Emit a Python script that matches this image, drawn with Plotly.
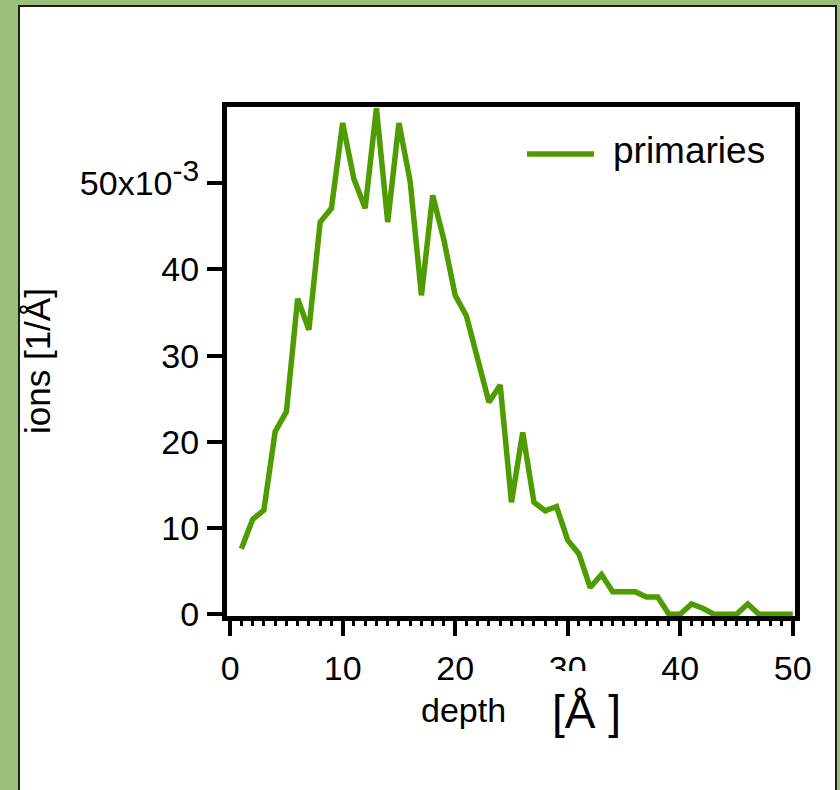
import plotly.graph_objects as go

# ---- data ----
depth = list(range(1, 51))
primaries = [0.0076, 0.0110, 0.0121, 0.0212, 0.0235, 0.0366, 0.0330, 0.0455, 0.0471, 0.0570,
             0.0505, 0.0471, 0.0587, 0.0455, 0.0570, 0.0502, 0.0370, 0.0486, 0.0434, 0.0370,
             0.0346, 0.0295, 0.0246, 0.0266, 0.0130, 0.0211, 0.0130, 0.0120, 0.0125, 0.0086,
             0.0070, 0.0031, 0.0046, 0.0026, 0.0026, 0.0026, 0.0020, 0.0020, 0.0000, 0.0000,
             0.0012, 0.0007, 0.0000, 0.0000, 0.0000, 0.0012, 0.0000, 0.0000, 0.0000, 0.0000]
series_name = "primaries"
y_tickvals = [0, 0.01, 0.02, 0.03, 0.04, 0.05]
y_ticktext = ["0", "10", "20", "30", "40",
              "50x10<sup><span style='font-size:30px'>-3</span></sup>"]
x_tickvals = [0, 10, 20, 30, 40, 50]
x_title = "depth"
x_unit = "[Å ]"
y_title = "ions [1/Å]"

# ---- layout geometry (pixels) ----
W, H = 840, 790
L, R, T, B = 227, 795, 107, 616
PW, PH = R - L, B - T

def px(x):
    return (x - L) / PW

def py(y):
    return (B - y) / PH

GREEN = "#4f9c00"
FONT = "Arial, Liberation Sans, sans-serif"

fig = go.Figure()
fig.add_trace(go.Scatter(x=depth, y=primaries, mode="lines", name=series_name,
                         line=dict(color=GREEN, width=5.5), showlegend=False))

fig.update_layout(
    width=W, height=H,
    margin=dict(l=L, r=W - R, t=T, b=H - B, pad=0),
    paper_bgcolor="#9bbe78",
    plot_bgcolor="white",
    font=dict(family=FONT, color="black", size=34),
    xaxis=dict(range=[-0.28, 50.2], tickvals=x_tickvals, ticks="outside", ticklen=15,
               tickwidth=4, tickcolor="black", showline=True, linewidth=5, linecolor="black",
               mirror=True, showgrid=False, zeroline=False, ticklabelstandoff=3,
               tickfont=dict(size=34),
               minor=dict(dtick=1, ticks="outside", ticklen=5, tickwidth=3, tickcolor="black",
                          showgrid=False)),
    yaxis=dict(range=[-0.0002, 0.05885], tickvals=y_tickvals, ticktext=y_ticktext,
               ticks="outside", ticklen=15, tickwidth=4, tickcolor="black", showline=True,
               linewidth=5, linecolor="black", mirror=True, showgrid=False, zeroline=False,
               ticklabelstandoff=1, tickfont=dict(size=34)),
    shapes=[
        # white panel
        dict(type="rect", xref="paper", yref="paper", layer="below",
             x0=px(19), x1=px(836), y0=py(805), y1=py(6),
             fillcolor="white", line=dict(color="#1a1a1a", width=2)),
        # box hiding part of the "30" label (as in the reference)
        dict(type="rect", xref="paper", yref="paper", layer="above",
             x0=px(540), x1=px(632), y0=py(745), y1=py(671),
             fillcolor="white", line=dict(width=0)),
        # legend sample line
        dict(type="line", xref="paper", yref="paper", layer="above",
             x0=px(527), x1=px(594), y0=py(154), y1=py(154),
             line=dict(color=GREEN, width=5.5)),
    ],
    annotations=[
        dict(text=series_name, xref="paper", yref="paper", x=px(611), y=py(150),
             xanchor="left", yanchor="middle", showarrow=False, font=dict(size=37)),
        dict(text=y_title, xref="paper", yref="paper", x=px(37), y=py(361),
             xanchor="center", yanchor="middle", textangle=-90, showarrow=False,
             font=dict(size=35)),
        dict(text=x_title, xref="paper", yref="paper", x=px(463), y=py(710),
             xanchor="center", yanchor="middle", showarrow=False, font=dict(size=34)),
        dict(text=x_unit, xref="paper", yref="paper", x=px(586), y=py(712),
             xanchor="center", yanchor="middle", showarrow=False, font=dict(size=46)),
    ],
)

fig.write_html("out.html")
